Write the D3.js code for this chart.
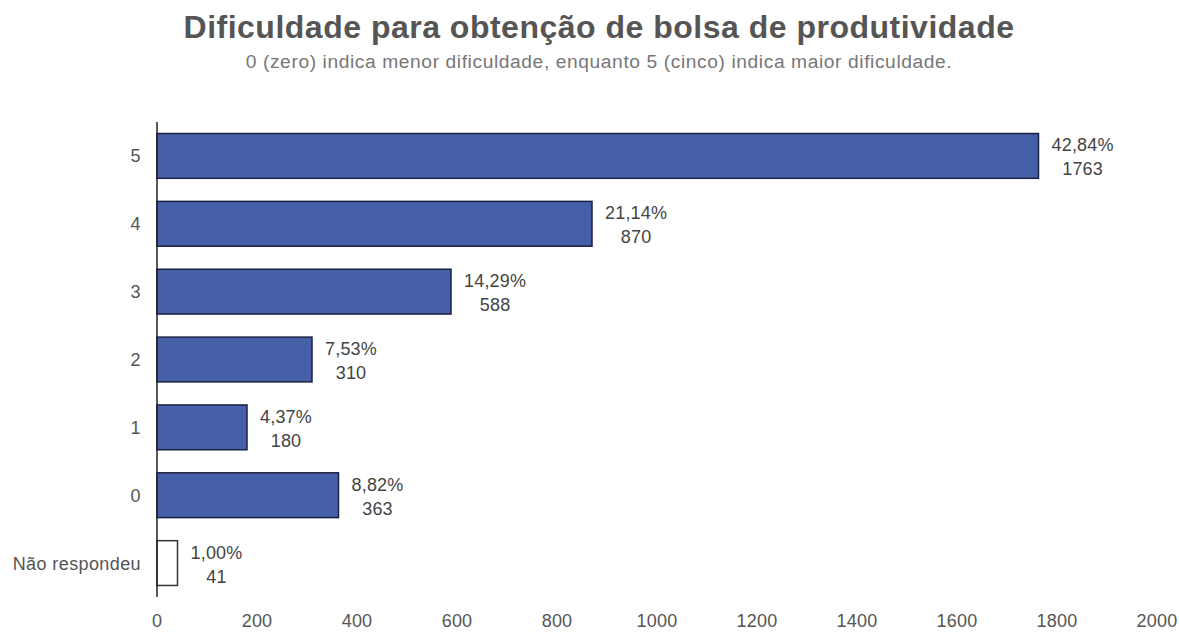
<!DOCTYPE html>
<html>
<head>
<meta charset="utf-8">
<script src="https://cdn.jsdelivr.net/npm/d3@7"></script>
<style>
  body { margin: 0; background: #fff; }
  svg { display: block; font-family: "Liberation Sans", Arial, Helvetica, sans-serif; }
</style>
</head>
<body>
<svg id="chart" width="1179" height="632"></svg>
<script>
// Response categories (top to bottom), counts and shares
const categories = ["5", "4", "3", "2", "1", "0", "Não respondeu"];
const counts = [1763, 870, 588, 310, 180, 363, 41];
const percents = ["42,84%", "21,14%", "14,29%", "7,53%", "4,37%", "8,82%", "1,00%"];
const xTicks = [0, 200, 400, 600, 800, 1000, 1200, 1400, 1600, 1800, 2000];

const svg = d3.select("#chart");
const margin = { left: 157, top: 122 };

const x = d3.scaleLinear().domain([0, 2000]).range([margin.left, 1157]);
const y = d3.scaleBand().domain(categories).range([margin.top, 597]).paddingInner(0.34).paddingOuter(0.17);

// Title and subtitle
svg.append("text")
  .attr("x", 599).attr("y", 38)
  .attr("text-anchor", "middle")
  .attr("font-size", 32).attr("font-weight", "bold")
  .attr("letter-spacing", 0.5)
  .attr("fill", "#555")
  .text("Dificuldade para obtenção de bolsa de produtividade");
svg.append("text")
  .attr("x", 599).attr("y", 68)
  .attr("text-anchor", "middle")
  .attr("font-size", 19.2)
  .attr("letter-spacing", 0.6)
  .attr("fill", "#777")
  .text("0 (zero) indica menor dificuldade, enquanto 5 (cinco) indica maior dificuldade.");

// Bars
const rows = categories.map((c, i) => ({ cat: c, n: counts[i], pct: percents[i] }));
svg.append("g").selectAll("rect").data(rows).join("rect")
  .attr("x", x(0))
  .attr("y", d => y(d.cat))
  .attr("width", d => x(d.n) - x(0))
  .attr("height", y.bandwidth())
  .attr("fill", d => d.cat === "Não respondeu" ? "#fff" : "#4560a8")
  .attr("stroke", d => d.cat === "Não respondeu" ? "#333" : "#1b2140")
  .attr("stroke-width", 1.5);

// Vertical baseline
svg.append("line")
  .attr("x1", x(0)).attr("x2", x(0))
  .attr("y1", margin.top).attr("y2", 597)
  .attr("stroke", "#222").attr("stroke-width", 1.5);

// Category labels
svg.append("g").selectAll("text").data(rows).join("text")
  .attr("x", 141)
  .attr("y", d => y(d.cat) + y.bandwidth() / 2 + 6.5)
  .attr("text-anchor", "end")
  .attr("font-size", 18)
  .attr("letter-spacing", 0.4)
  .attr("fill", "#555")
  .text(d => d.cat);

// Value labels: percentage with count centred beneath
const lab = svg.append("g").selectAll("g").data(rows).join("g");
lab.each(function (d) {
  const g = d3.select(this);
  const cy = y(d.cat) + y.bandwidth() / 2;
  const x0 = x(d.n) + 13;
  const p = g.append("text")
    .attr("x", x0).attr("y", cy - 4.5)
    .attr("font-size", 18).attr("letter-spacing", 0.2).attr("fill", "#444")
    .text(d.pct);
  const w = p.node().getComputedTextLength();
  g.append("text")
    .attr("x", x0 + w / 2).attr("y", cy + 19.5)
    .attr("text-anchor", "middle")
    .attr("font-size", 18).attr("letter-spacing", 0.2).attr("fill", "#444")
    .text(d.n);
});

// X axis tick labels
svg.append("g").selectAll("text").data(xTicks).join("text")
  .attr("x", d => x(d))
  .attr("y", 627)
  .attr("text-anchor", "middle")
  .attr("font-size", 18)
  .attr("letter-spacing", 0.2)
  .attr("fill", "#555")
  .text(d => d);
</script>
</body>
</html>
